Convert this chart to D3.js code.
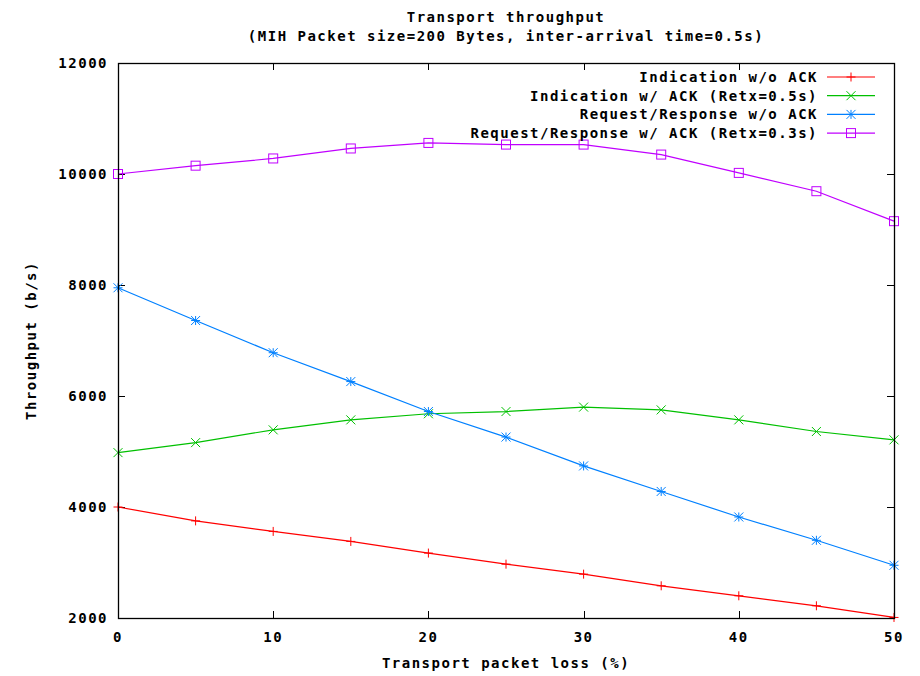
<!DOCTYPE html>
<html><head><meta charset="utf-8">
<script src="https://cdn.jsdelivr.net/npm/d3@7"></script>
<style>
html,body{margin:0;padding:0;background:#fff;}
text{font-family:"DejaVu Sans Mono",monospace;font-weight:bold;font-size:14px;fill:#000;letter-spacing:1.5px;}
</style></head><body>
<svg id="c" width="920" height="676"></svg>
<script>
const lossPct = [0,5,10,15,20,25,30,35,40,45,50];
const indicationNoAck = [4000,3750,3560,3380,3170,2970,2790,2580,2400,2220,2010];
const indicationAck = [4980,5160,5390,5570,5680,5720,5800,5750,5570,5360,5210];
const reqRespNoAck = [7950,7360,6780,6260,5720,5260,4740,4280,3820,3400,2950];
const reqRespAck = [10000,10150,10280,10460,10560,10530,10530,10350,10020,9690,9150];
const seriesNames = ["Indication w/o ACK","Indication w/ ACK (Retx=0.5s)","Request/Response w/o ACK","Request/Response w/ ACK (Retx=0.3s)"];
const seriesColors = ["#ff0000","#00c000","#0080ff","#c000ff"];
const seriesMarkers = ["plus","cross","star","square"];
const xTicks = [0,10,20,30,40,50];
const yTicks = [2000,4000,6000,8000,10000,12000];
const titleLines = ["Transport throughput","(MIH Packet size=200 Bytes, inter-arrival time=0.5s)"];
const xLabel = "Transport packet loss (%)";
const yLabel = "Throughput (b/s)";

const seriesData = [indicationNoAck, indicationAck, reqRespNoAck, reqRespAck];
const L=118, R=894, T=63, B=618;
const svg = d3.select("#c");
const x = d3.scaleLinear().domain([0,50]).range([L,R]);
const y = d3.scaleLinear().domain([2000,12000]).range([B,T]);

// titles
titleLines.forEach((t,i)=>{
  svg.append("text").attr("x",(L+R)/2).attr("y",22+i*19).attr("text-anchor","middle").text(t);
});

// ticks (inward, mirrored)
const tl=7;
const g = svg.append("g").attr("stroke","#000").attr("stroke-width",1);
xTicks.forEach(v=>{
  const px=Math.round(x(v))+0.5;
  g.append("line").attr("x1",px).attr("x2",px).attr("y1",B).attr("y2",B-tl);
  g.append("line").attr("x1",px).attr("x2",px).attr("y1",T).attr("y2",T+tl);
});
yTicks.forEach(v=>{
  const py=Math.round(y(v))+0.5;
  g.append("line").attr("x1",L).attr("x2",L+tl).attr("y1",py).attr("y2",py);
  g.append("line").attr("x1",R).attr("x2",R-tl).attr("y1",py).attr("y2",py);
});
xTicks.forEach(v=>{
  svg.append("text").attr("x",x(v)).attr("y",642).attr("text-anchor","middle").text(v);
});
yTicks.forEach(v=>{
  svg.append("text").attr("x",108).attr("y",y(v)+5).attr("text-anchor","end").text(v);
});
svg.append("text").attr("x",(L+R)/2).attr("y",668).attr("text-anchor","middle").text(xLabel);
svg.append("text").attr("transform",`translate(36,${(T+B)/2}) rotate(-90)`).attr("text-anchor","middle").text(yLabel);

function marker(sel, type, cx, cy, color){
  const s=4.5;
  const gg=sel.append("g").attr("stroke",color).attr("fill","none").attr("stroke-width",1);
  if(type==="plus"||type==="star"){
    gg.append("line").attr("x1",cx-s).attr("x2",cx+s).attr("y1",cy).attr("y2",cy);
    gg.append("line").attr("x1",cx).attr("x2",cx).attr("y1",cy-s).attr("y2",cy+s);
  }
  if(type==="cross"||type==="star"){
    gg.append("line").attr("x1",cx-s).attr("x2",cx+s).attr("y1",cy-s).attr("y2",cy+s);
    gg.append("line").attr("x1",cx-s).attr("x2",cx+s).attr("y1",cy+s).attr("y2",cy-s);
  }
  if(type==="square"){
    gg.append("rect").attr("x",cx-s).attr("y",cy-s).attr("width",2*s).attr("height",2*s);
  }
}

const line = d3.line().x((d,i)=>x(lossPct[i])).y(d=>y(d));
seriesData.forEach((data,k)=>{
  svg.append("path").datum(data).attr("d",line).attr("fill","none")
    .attr("stroke",seriesColors[k]).attr("stroke-width",1.2);
  data.forEach((d,i)=>marker(svg, seriesMarkers[k], x(lossPct[i]), y(d), seriesColors[k]));
});

// legend
seriesNames.forEach((n,k)=>{
  const ly=77+k*18.7;
  svg.append("text").attr("x",818).attr("y",ly+5).attr("text-anchor","end").text(n);
  svg.append("line").attr("x1",827).attr("x2",875).attr("y1",ly).attr("y2",ly)
    .attr("stroke",seriesColors[k]).attr("stroke-width",1.2);
  marker(svg, seriesMarkers[k], 851, ly, seriesColors[k]);
});

// frame
svg.append("rect").attr("x",L+0.5).attr("y",T+0.5).attr("width",R-L).attr("height",B-T)
  .attr("fill","none").attr("stroke","#000").attr("stroke-width",1.3);
</script></body></html>
